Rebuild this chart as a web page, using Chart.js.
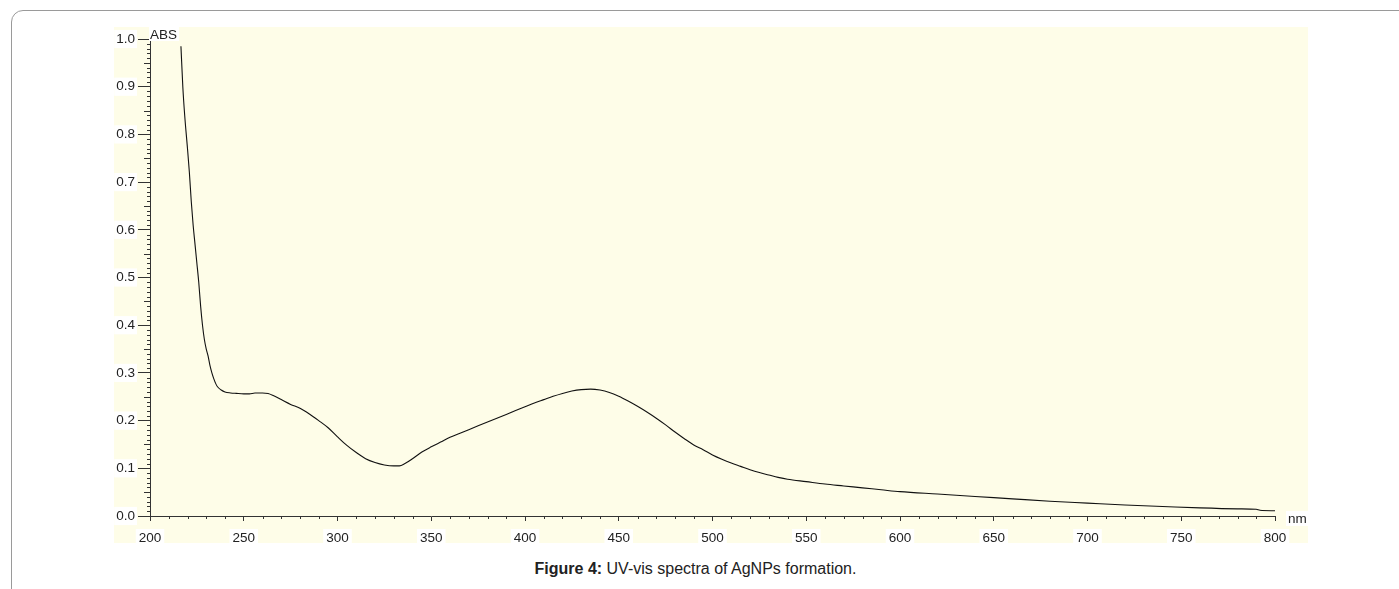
<!DOCTYPE html>
<html><head><meta charset="utf-8">
<script src="https://cdn.jsdelivr.net/npm/chart.js@4.4.0/dist/chart.umd.min.js"></script>
<style>
html,body{margin:0;padding:0;background:#fff;width:1399px;height:589px;overflow:hidden;font-family:"Liberation Sans",Arial,sans-serif;}
#frame{position:absolute;left:11px;top:10px;width:1500px;height:700px;border:1px solid #9a9a9a;border-radius:12px;}
#wrap{position:absolute;left:114px;top:27px;width:1194px;height:516px;background:#FEFDE8;}
#caption{position:absolute;left:0;width:1391px;top:560px;text-align:center;font-size:16px;color:#222;}
</style></head>
<body>
<div id="frame"></div>
<div id="wrap"><canvas id="c" width="1194" height="516"></canvas></div>
<div id="caption"><b>Figure 4:</b> UV-vis spectra of AgNPs formation.</div>
<script>
// wavelength (nm)
const wavelengths = [216.5,217.5,218.5,220,221,222,223,224,225,226,227,228,229,230,231,232,233,234,235,236,238,240,243,246,250,253,256,260,263,266,270,275,280,285,290,295,300,305,310,315,320,325,330,333,336,340,345,350,355,360,365,370,375,380,385,390,395,400,405,410,415,420,425,430,435,440,445,450,455,460,465,470,475,480,485,490,495,500,505,510,515,520,525,530,535,540,550,560,570,580,590,600,620,640,660,680,700,720,740,760,780,790,792,800];
// absorbance (ABS)
const absorbance = [0.985,0.90,0.84,0.77,0.72,0.66,0.61,0.57,0.53,0.49,0.44,0.40,0.37,0.35,0.335,0.315,0.30,0.288,0.278,0.271,0.264,0.26,0.258,0.257,0.256,0.256,0.258,0.258,0.257,0.252,0.244,0.234,0.226,0.214,0.200,0.185,0.166,0.148,0.133,0.120,0.112,0.107,0.105,0.105,0.110,0.120,0.134,0.145,0.155,0.165,0.173,0.181,0.189,0.197,0.205,0.213,0.221,0.229,0.237,0.244,0.251,0.257,0.262,0.265,0.266,0.264,0.259,0.251,0.241,0.230,0.218,0.205,0.191,0.176,0.162,0.149,0.139,0.128,0.119,0.111,0.104,0.097,0.091,0.086,0.081,0.077,0.072,0.067,0.063,0.059,0.055,0.051,0.046,0.041,0.036,0.031,0.027,0.023,0.020,0.017,0.015,0.014,0.012,0.011];
const xTicks = [200,250,300,350,400,450,500,550,600,650,700,750,800];
const yTicks = [0.0,0.1,0.2,0.3,0.4,0.5,0.6,0.7,0.8,0.9,1.0];
const yAxisTitle = 'ABS';
const xAxisTitle = 'nm';

const points = wavelengths.map((w,i)=>({x:w,y:absorbance[i]}));
const FONT = {family:'"Liberation Sans", Arial, sans-serif', size:13.5};

const extras = {
  id:'extras',
  afterDraw(chart){
    const ctx=chart.ctx, xs=chart.scales.x, ys=chart.scales.y, a=chart.chartArea;
    ctx.save();
    ctx.strokeStyle='#333'; ctx.lineWidth=1; ctx.beginPath();
    const yMin=yTicks[0], yMax=yTicks[yTicks.length-1];
    const n=Math.round((yMax-yMin)*100);
    for(let i=0;i<=n;i++){
      if(i%10===0) continue;
      const py=Math.round(ys.getPixelForValue(yMin+i/100))+0.5;
      const len=(i%5===0)?6:3;
      ctx.moveTo(a.left,py); ctx.lineTo(a.left-len,py);
    }
    const xMin=xTicks[0], xMax=xTicks[xTicks.length-1];
    for(let v=xMin; v<=xMax; v+=10){
      if(v%50===0) continue;
      const px=Math.round(xs.getPixelForValue(v))+0.5;
      ctx.moveTo(px,a.bottom); ctx.lineTo(px,a.bottom+3);
    }
    ctx.stroke();
    ctx.font='13.5px "Liberation Sans", Arial, sans-serif';
    ctx.textBaseline='middle'; ctx.textAlign='left';
    let w=ctx.measureText(yAxisTitle).width;
    ctx.fillStyle='#fff'; ctx.fillRect(a.left-1,a.top-12,w+3,14);
    ctx.fillStyle='#222'; ctx.fillText(yAxisTitle,a.left,a.top-4);
    w=ctx.measureText(xAxisTitle).width;
    ctx.fillStyle='#fff'; ctx.fillRect(a.right+11,a.bottom-5,w+4,15);
    ctx.fillStyle='#222'; ctx.fillText(xAxisTitle,a.right+13,a.bottom+3);
    ctx.restore();
  }
};

new Chart(document.getElementById('c'),{
  type:'line',
  data:{datasets:[{data:points,borderColor:'#111',borderWidth:1.1,pointRadius:0,fill:false,tension:0,cubicInterpolationMode:'monotone'}]},
  options:{
    responsive:false, animation:false, devicePixelRatio:1,
    layout:{padding:{left:0,top:12,right:33,bottom:0}},
    plugins:{legend:{display:false},tooltip:{enabled:false}},
    scales:{
      x:{type:'linear',min:xTicks[0],max:xTicks[xTicks.length-1],
        afterFit(s){s.height=27;},
        afterBuildTicks(s){s.ticks=xTicks.map(v=>({value:v}));},
        grid:{drawOnChartArea:false,drawTicks:true,tickLength:5,color:'#333'},
        border:{display:true,color:'#333',width:1},
        ticks:{font:FONT,color:'#222',padding:9,maxRotation:0,autoSkip:false,
          showLabelBackdrop:true,backdropColor:'#fff',backdropPadding:{x:3,y:1},
          callback:v=>String(v)}
      },
      y:{type:'linear',min:yTicks[0],max:yTicks[yTicks.length-1],
        afterFit(s){s.width=36;},
        afterBuildTicks(s){s.ticks=yTicks.map(v=>({value:v}));},
        grid:{drawOnChartArea:false,drawTicks:true,tickLength:12,color:'#333'},
        border:{display:true,color:'#333',width:1},
        ticks:{font:FONT,color:'#222',padding:3,autoSkip:false,
          showLabelBackdrop:true,backdropColor:'#fff',backdropPadding:{x:2,y:1},
          callback:v=>Number(v).toFixed(1)}
      }
    }
  },
  plugins:[extras]
});
</script>
</body></html>
